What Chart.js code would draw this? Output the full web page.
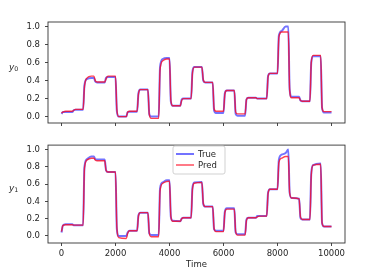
<!DOCTYPE html>
<html>
<head>
<meta charset="utf-8">
<script src="https://cdn.jsdelivr.net/npm/chart.js@4/dist/chart.umd.min.js"></script>
<style>
  html, body { margin: 0; padding: 0; background: #ffffff; }
  #wrap { position: relative; width: 371px; height: 275px; }
  canvas { position: absolute; left: 0; }
</style>
</head>
<body>
<div id="wrap">
  <canvas id="c0" width="371" height="135" style="top:0px"></canvas>
  <canvas id="c1" width="371" height="140" style="top:135px"></canvas>
</div>
<script>
// ---- data ----
const time = [
  0, 50, 150,
  400, 450, 520,
  800, 850, 950, 1100,
  1200, 1250, 1320,
  1600, 1650, 1720,
  2000, 2050, 2120,
  2400, 2450, 2520,
  2800, 2850, 2920,
  3200, 3250, 3320,
  3600, 3650, 3750, 3900,
  4000, 4050, 4120,
  4400, 4450, 4520,
  4800, 4850, 4920,
  5200, 5250, 5320,
  5600, 5650, 5720,
  6000, 6050, 6120,
  6400, 6450, 6520,
  6800, 6850, 6920,
  7200, 7250, 7320,
  7600, 7650, 7720,
  8000, 8050, 8150, 8300,
  8400, 8450, 8520,
  8800, 8850, 8920,
  9200, 9250, 9320,
  9600, 9650, 9720,
  10000
];
const y0True = [
  0.03, 0.05, 0.05,
  0.05, 0.07, 0.075,
  0.075, 0.35, 0.42, 0.43,
  0.43, 0.39, 0.38,
  0.38, 0.43, 0.44,
  0.44, 0.06, 0.0,
  0.0, 0.05, 0.055,
  0.055, 0.26, 0.30,
  0.30, 0.03, 0.0,
  0.0, 0.55, 0.64, 0.65,
  0.65, 0.17, 0.12,
  0.12, 0.19, 0.20,
  0.20, 0.50, 0.55,
  0.55, 0.40, 0.38,
  0.38, 0.07, 0.04,
  0.04, 0.26, 0.29,
  0.29, 0.03, 0.01,
  0.01, 0.19, 0.21,
  0.21, 0.20, 0.20,
  0.20, 0.45, 0.48,
  0.48, 0.90, 0.95, 1.0,
  1.0, 0.30, 0.22,
  0.22, 0.18, 0.17,
  0.17, 0.60, 0.67,
  0.67, 0.10, 0.045,
  0.045
];
const y0Pred = [
  0.04, 0.05, 0.06,
  0.06, 0.07, 0.08,
  0.08, 0.33, 0.43, 0.45,
  0.45, 0.40, 0.385,
  0.385, 0.42, 0.45,
  0.45, 0.08, 0.0,
  0.0, 0.05, 0.06,
  0.06, 0.25, 0.30,
  0.30, 0.03, -0.02,
  -0.02, 0.52, 0.62, 0.64,
  0.64, 0.18, 0.12,
  0.12, 0.18, 0.20,
  0.20, 0.48, 0.55,
  0.55, 0.41, 0.38,
  0.38, 0.09, 0.06,
  0.06, 0.25, 0.29,
  0.29, 0.05, 0.03,
  0.03, 0.19, 0.21,
  0.21, 0.20, 0.20,
  0.20, 0.44, 0.48,
  0.48, 0.88, 0.94, 0.94,
  0.94, 0.30, 0.21,
  0.21, 0.18, 0.17,
  0.17, 0.60, 0.68,
  0.68, 0.10, 0.055,
  0.055
];
const y1True = [
  0.04, 0.12, 0.135,
  0.135, 0.125, 0.125,
  0.125, 0.80, 0.89, 0.92,
  0.92, 0.89, 0.885,
  0.885, 0.76, 0.74,
  0.74, 0.08, 0.0,
  0.0, 0.04, 0.06,
  0.06, 0.24, 0.27,
  0.27, 0.03, 0.01,
  0.01, 0.55, 0.62, 0.645,
  0.645, 0.22, 0.175,
  0.17, 0.20, 0.21,
  0.21, 0.56, 0.62,
  0.625, 0.37, 0.34,
  0.34, 0.08, 0.06,
  0.06, 0.28, 0.32,
  0.32, 0.04, 0.02,
  0.02, 0.19, 0.21,
  0.21, 0.23, 0.23,
  0.23, 0.50, 0.54,
  0.54, 0.88, 0.94, 0.96,
  1.0, 0.50, 0.44,
  0.43, 0.21, 0.19,
  0.19, 0.72, 0.82,
  0.84, 0.15, 0.11,
  0.11
];
const y1Pred = [
  0.05, 0.12, 0.13,
  0.13, 0.125, 0.125,
  0.125, 0.78, 0.88, 0.90,
  0.90, 0.88, 0.87,
  0.87, 0.76, 0.74,
  0.74, 0.10, -0.02,
  -0.03, 0.03, 0.06,
  0.06, 0.23, 0.27,
  0.27, 0.04, -0.01,
  -0.01, 0.52, 0.61, 0.63,
  0.635, 0.23, 0.17,
  0.17, 0.20, 0.21,
  0.21, 0.54, 0.61,
  0.62, 0.38, 0.34,
  0.34, 0.09, 0.05,
  0.05, 0.27, 0.31,
  0.31, 0.05, 0.01,
  0.01, 0.18, 0.21,
  0.21, 0.22, 0.23,
  0.23, 0.49, 0.54,
  0.54, 0.85, 0.90, 0.92,
  0.92, 0.50, 0.44,
  0.43, 0.22, 0.19,
  0.19, 0.70, 0.82,
  0.83, 0.15, 0.11,
  0.11
];
const xTicks = [0, 2000, 4000, 6000, 8000, 10000];
const yTicks = [0.0, 0.2, 0.4, 0.6, 0.8, 1.0];
const seriesNames = ['True', 'Pred'];
const panelLabels = ['0', '1'];   // subscripts of y
const xTitle = 'Time';

// ---- styling ----
const FONT = '"DejaVu Sans", sans-serif';
const TRUE_COLOR = 'rgba(0,0,255,0.55)';
const PRED_COLOR = 'rgba(255,0,25,0.75)';
const AXIS_COLOR = '#333333';
const TEXT_COLOR = '#262626';

function pts(arr) { return time.map((t, i) => ({ x: t, y: arr[i] })); }

const framePlugin = {
  id: 'frame',
  afterDraw(chart, args, opts) {
    const { ctx, chartArea: a } = chart;
    ctx.save();
    ctx.strokeStyle = AXIS_COLOR;
    ctx.lineWidth = 0.9;
    ctx.strokeRect(a.left, a.top, a.right - a.left, a.bottom - a.top);
    // y label  (y with subscript)
    ctx.fillStyle = TEXT_COLOR;
    ctx.textBaseline = 'alphabetic';
    ctx.textAlign = 'left';
    ctx.font = 'italic 9px ' + FONT;
    ctx.fillText('y', opts.lx, opts.ly);
    ctx.font = '6.3px ' + FONT;
    ctx.fillText(opts.sub, opts.lx + 5.2, opts.ly + 1.8);
    // legend
    if (opts.legend) {
      const L = opts.legend;
      ctx.beginPath();
      if (ctx.roundRect) ctx.roundRect(L.x, L.y, L.w, L.h, 2);
      else ctx.rect(L.x, L.y, L.w, L.h);
      ctx.fillStyle = 'rgba(255,255,255,0.85)';
      ctx.fill();
      ctx.strokeStyle = '#cccccc';
      ctx.lineWidth = 0.9;
      ctx.stroke();
      const ds = chart.data.datasets;
      const rows = [L.y + 8, L.y + 19];
      ds.forEach((d, i) => {
        ctx.beginPath();
        ctx.strokeStyle = d.borderColor;
        ctx.lineWidth = d.borderWidth;
        ctx.moveTo(L.x + 3, rows[i]);
        ctx.lineTo(L.x + 21, rows[i]);
        ctx.stroke();
        ctx.fillStyle = TEXT_COLOR;
        ctx.font = '8.5px ' + FONT;
        ctx.textBaseline = 'middle';
        ctx.fillText(d.label, L.x + 25, rows[i] + 0.5);
      });
    }
    ctx.restore();
  }
};

function makeChart(id, trueArr, predArr, cfg) {
  return new Chart(document.getElementById(id), {
    type: 'line',
    data: {
      datasets: [
        { label: seriesNames[0], data: pts(trueArr), borderColor: TRUE_COLOR, borderWidth: 2,
          pointRadius: 0, cubicInterpolationMode: 'monotone', order: 2 },
        { label: seriesNames[1], data: pts(predArr), borderColor: PRED_COLOR, borderWidth: 1.4,
          pointRadius: 0, cubicInterpolationMode: 'monotone', order: 1 }
      ]
    },
    options: {
      responsive: false,
      animation: false,
      devicePixelRatio: 1,
      layout: { padding: { left: 0, right: 26, top: cfg.top, bottom: 0 } },
      plugins: {
        legend: { display: false },
        tooltip: { enabled: false },
        frame: { lx: 9, ly: cfg.ly, sub: cfg.sub, legend: cfg.legend }
      },
      scales: {
        x: {
          type: 'linear',
          min: -500, max: 10500,
          afterBuildTicks: s => { s.ticks = xTicks.map(v => ({ value: v })); },
          afterFit: s => { s.height = cfg.xh; },
          grid: { display: true, drawOnChartArea: false, drawTicks: true, tickLength: 3,
                  tickWidth: 0.9, color: AXIS_COLOR },
          border: { display: false },
          ticks: { display: cfg.showX, color: TEXT_COLOR, padding: 3, maxRotation: 0,
                   font: { family: FONT, size: 8.5 }, callback: v => String(v) },
          title: { display: cfg.showX, text: xTitle, color: TEXT_COLOR,
                   font: { family: FONT, size: 8.5 }, padding: { top: 0, bottom: 5 } }
        },
        y: {
          type: 'linear',
          min: cfg.ymin, max: cfg.ymax,
          afterBuildTicks: s => { s.ticks = yTicks.map(v => ({ value: v })); },
          afterFit: s => { s.width = 48; },
          grid: { display: true, drawOnChartArea: false, drawTicks: true, tickLength: 3,
                  tickWidth: 0.9, color: AXIS_COLOR },
          border: { display: false },
          ticks: { color: TEXT_COLOR, padding: 5, font: { family: FONT, size: 8.5 },
                   callback: v => Number(v).toFixed(1) }
        }
      }
    },
    plugins: [framePlugin]
  });
}

makeChart('c0', y0True, y0Pred, {
  top: 22, xh: 12, showX: false, ymin: -0.071, ymax: 1.051, ly: 69.5, sub: panelLabels[0]
});
makeChart('c1', y1True, y1Pred, {
  top: 8, xh: 32, showX: true, ymin: -0.0815, ymax: 1.0515, ly: 55.5, sub: panelLabels[1],
  legend: { x: 173, y: 11, w: 52, h: 28 }
});
</script>
</body>
</html>
